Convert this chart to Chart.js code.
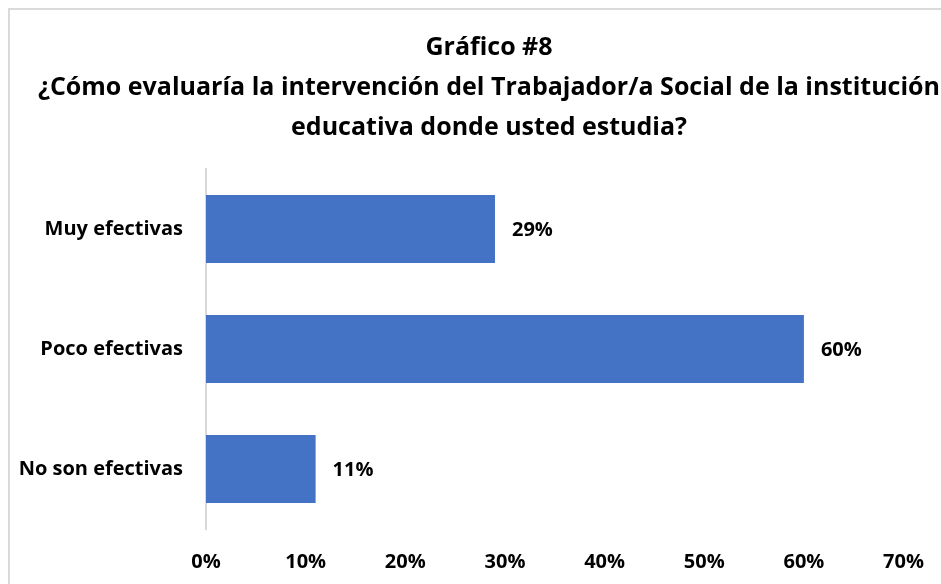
<!DOCTYPE html>
<html>
<head>
<meta charset="utf-8">
<script src="https://cdn.jsdelivr.net/npm/chart.js@4.4.1/dist/chart.umd.min.js"></script>
<style>
  html, body { margin: 0; padding: 0; background: #fff; }
  body { width: 941px; height: 584px; position: relative; overflow: hidden; }
  .frame { position: absolute; left: 8px; top: 8px; width: 1000px; height: 700px;
           border-left: 2px solid #dadada; border-top: 2px solid #dadada; }
  #chart { position: absolute; left: 0; top: 0; }
</style>
</head>
<body>
<div class="frame"></div>
<!-- el lienzo es un poco más ancho que la ventana: el gráfico original está recortado a la derecha -->
<canvas id="chart" width="945" height="584"></canvas>
<script>
const titleLines = [
  'Gráfico #8',
  '¿Cómo evaluaría la intervención del Trabajador/a Social de la institución',
  'educativa donde usted estudia?'
];
const categories = ['Muy efectivas', 'Poco efectivas', 'No son efectivas'];
const percentages = [29, 60, 11];
const xTicks = [0, 10, 20, 30, 40, 50, 60, 70];

const FONT = '"Open Sans", Lato, sans-serif';

// el título original está centrado sobre un marco más ancho que la ventana
const titleCenter = {
  id: 'titleCenter',
  afterLayout(chart) {
    const t = chart.titleBlock;
    t.left = 0;
    t.right = 978;
    t.width = 978;
  }
};

// etiquetas de valor al final de cada barra
const valueLabels = {
  id: 'valueLabels',
  afterDatasetsDraw(chart) {
    const ctx = chart.ctx;
    const meta = chart.getDatasetMeta(0);
    ctx.save();
    ctx.font = 'bold 20px ' + FONT;
    ctx.fillStyle = '#000';
    ctx.textAlign = 'left';
    ctx.textBaseline = 'middle';
    meta.data.forEach((bar, i) => {
      ctx.fillText(percentages[i] + '%', bar.x + 17, bar.y + 1);
    });
    ctx.restore();
  }
};

new Chart(document.getElementById('chart'), {
  type: 'bar',
  data: {
    labels: categories,
    datasets: [{
      data: percentages,
      backgroundColor: '#4472C4',
      borderWidth: 0,
      categoryPercentage: 1,
      barPercentage: 0.567
    }]
  },
  options: {
    indexAxis: 'y',
    responsive: false,
    animation: false,
    layout: { padding: { left: 0, right: 20, top: 0, bottom: 0 } },
    plugins: {
      legend: { display: false },
      tooltip: { enabled: false },
      title: {
        display: true,
        text: titleLines,
        color: '#000',
        font: { family: FONT, size: 25, weight: 'bold', lineHeight: 1.6 },
        padding: { top: 28, bottom: 21 }
      }
    },
    scales: {
      x: {
        min: 0,
        max: 70,
        afterBuildTicks: (scale) => { scale.ticks = xTicks.map(v => ({ value: v })); },
        afterFit: (scale) => { scale.height = 55; },
        grid: { display: false, drawTicks: false },
        border: { display: false },
        ticks: {
          color: '#000',
          padding: 21,
          maxRotation: 0,
          font: { family: FONT, size: 20, weight: 'bold' },
          callback: (v) => v + '%'
        }
      },
      y: {
        afterFit: (scale) => { scale.width = 206; },
        grid: { display: false, drawTicks: false },
        border: { display: true, color: '#d9d9d9', width: 2 },
        ticks: {
          color: '#000',
          padding: 23,
          font: { family: FONT, size: 20, weight: 'bold' }
        }
      }
    }
  },
  plugins: [titleCenter, valueLabels]
});
</script>
</body>
</html>
